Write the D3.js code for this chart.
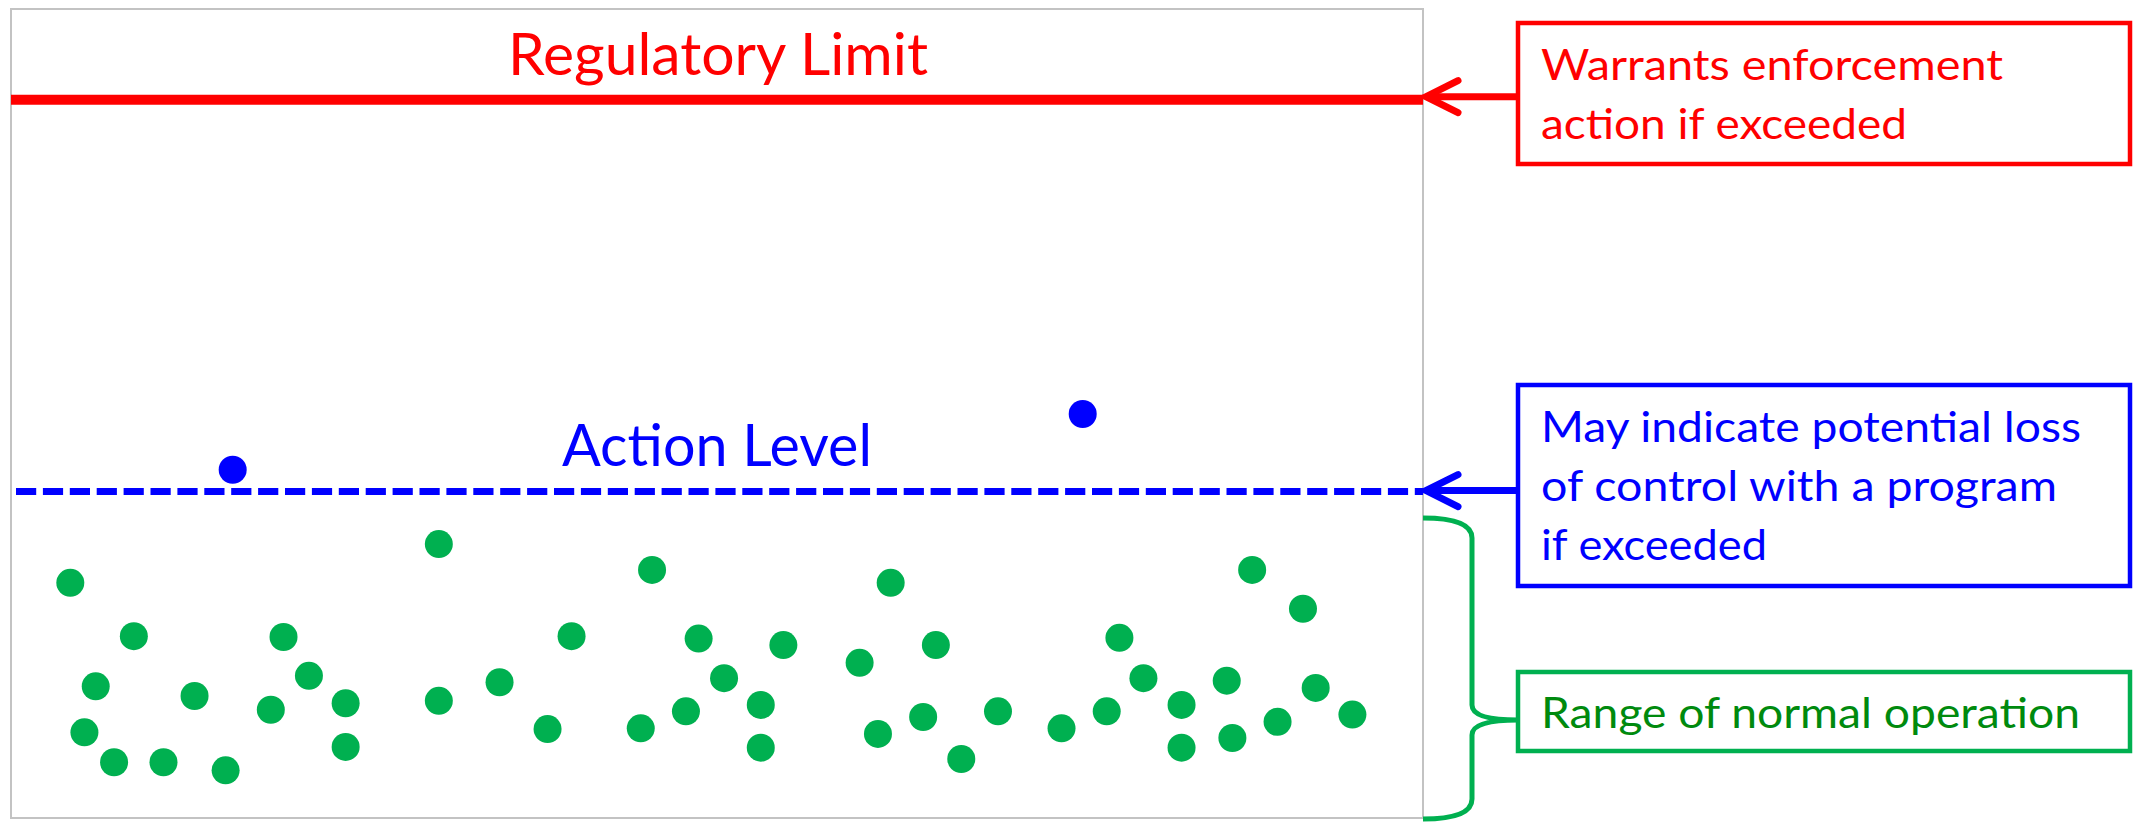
<!DOCTYPE html>
<html>
<head>
<meta charset="utf-8">
<script src="https://cdn.jsdelivr.net/npm/d3@7"></script>
<style>
  html, body { margin: 0; padding: 0; background: #fff; }
  svg { display: block; font-family: Lato, "Open Sans", sans-serif; }
</style>
</head>
<body>
<svg id="chart" width="2133" height="822"></svg>
<script>
// 측정값 (x: 샘플 위치, y: 농도) - 그림에서 읽은 값
const normalX = [4.2, 30.3, 8.7, 19.3, 6.0, 13.0, 21.1, 18.4, 23.7, 30.3, 34.6, 5.2, 7.3, 10.8, 15.2, 23.7,
                 39.7, 38.0, 45.4, 44.6, 48.7, 50.5, 47.8, 54.7, 53.1, 53.1, 62.3, 60.1, 65.5, 61.4, 64.6, 67.3, 69.9,
                 74.4, 77.6, 78.5, 80.2, 82.9, 82.9, 86.1, 86.5, 87.9, 91.5, 89.7, 92.4, 95.0];
const normalY = [29.1, 33.9, 22.5, 22.4, 16.3, 15.1, 17.6, 13.4, 14.2, 14.5, 16.8, 10.6, 6.9, 6.9, 5.9, 8.8,
                 22.5, 11.0, 30.7, 11.1, 22.2, 17.3, 13.2, 21.4, 14.0, 8.7, 29.1, 19.2, 21.4, 10.4, 12.5, 7.3, 13.2,
                 11.1, 13.2, 22.3, 17.3, 14.0, 8.7, 17.0, 9.9, 30.7, 25.9, 11.9, 16.1, 12.8];
const highX = [15.7, 75.9];
const highY = [43.1, 50.0];

const regulatoryLimit = 88.9;
const actionLevel = 40.4;

const limitLabel = "Regulatory Limit";
const actionLabel = "Action Level";
const redNote = ["Warrants enforcement", "action if exceeded"];
const blueNote = ["May indicate potential loss", "of control with a program", "if exceeded"];
const greenNote = ["Range of normal operation"];

const svg = d3.select("#chart");
const plot = { left: 11, top: 10, right: 1423, bottom: 818 };

const xScale = d3.scaleLinear().domain([0, 100]).range([plot.left, plot.right]);
const yScale = d3.scaleLinear().domain([0, 100]).range([plot.bottom, plot.top]);

const RED = "#FF0000", BLUE = "#0000FF", GREEN = "#00B050", GREEN_TEXT = "#008A0E";

// 플롯 테두리
svg.append("rect")
    .attr("x", plot.left)
    .attr("y", plot.top - 1)
    .attr("width", plot.right - plot.left)
    .attr("height", plot.bottom - plot.top + 1)
    .attr("fill", "none")
    .attr("stroke", "#C3C3C3")
    .attr("stroke-width", 2);

// 규제 한계선
svg.append("line")
    .attr("x1", xScale(0)).attr("x2", xScale(100))
    .attr("y1", yScale(regulatoryLimit)).attr("y2", yScale(regulatoryLimit))
    .attr("stroke", RED)
    .attr("stroke-width", 10);

svg.append("text")
    .attr("x", 508)
    .attr("y", yScale(regulatoryLimit) - 25)
    .attr("fill", RED)
    .attr("textLength", 420)
    .attr("lengthAdjust", "spacingAndGlyphs")
    .style("font-size", "58px")
    .text(limitLabel);

// 조치 수준선 (점선)
svg.append("line")
    .attr("x1", xScale(0) + 5).attr("x2", xScale(100))
    .attr("y1", yScale(actionLevel)).attr("y2", yScale(actionLevel))
    .attr("stroke", BLUE)
    .attr("stroke-width", 7)
    .attr("stroke-dasharray", "20.2,6.7");

svg.append("text")
    .attr("x", 562)
    .attr("y", yScale(actionLevel) - 26)
    .attr("fill", BLUE)
    .attr("textLength", 310)
    .attr("lengthAdjust", "spacingAndGlyphs")
    .style("font-size", "58px")
    .text(actionLabel);

// 데이터 점
const normalData = normalX.map((x, i) => ({ x, y: normalY[i] }));
const highData = highX.map((x, i) => ({ x, y: highY[i] }));

svg.selectAll(".normal-point")
    .data(normalData)
    .enter()
    .append("circle")
    .attr("class", "normal-point")
    .attr("cx", d => xScale(d.x))
    .attr("cy", d => yScale(d.y))
    .attr("r", 14)
    .attr("fill", GREEN);

svg.selectAll(".high-point")
    .data(highData)
    .enter()
    .append("circle")
    .attr("class", "high-point")
    .attr("cx", d => xScale(d.x))
    .attr("cy", d => yScale(d.y))
    .attr("r", 14)
    .attr("fill", BLUE);

// 주석 상자
const boxX = 1518, boxW = 612;
const notes = [
    { lines: redNote, color: RED, textColor: RED, top: 23, bottom: 164, baseline: 80 },
    { lines: blueNote, color: BLUE, textColor: BLUE, top: 385, bottom: 586, baseline: 442 },
    { lines: greenNote, color: GREEN, textColor: GREEN_TEXT, top: 672, bottom: 751, baseline: 728 }
];
const lineWidths = [[462, 366], [540, 516, 226], [539]];

notes.forEach((n, ni) => {
    svg.append("rect")
        .attr("x", boxX)
        .attr("y", n.top)
        .attr("width", boxW)
        .attr("height", n.bottom - n.top)
        .attr("fill", "#fff")
        .attr("stroke", n.color)
        .attr("stroke-width", 4.5);

    n.lines.forEach((t, i) => {
        svg.append("text")
            .attr("x", 1541)
            .attr("y", n.baseline + i * 59)
            .attr("fill", n.textColor)
            .attr("textLength", lineWidths[ni][i])
            .attr("lengthAdjust", "spacingAndGlyphs")
            .style("font-size", "42px")
            .text(t);
    });
});

// 화살표
function arrow(y, color) {
    const tip = plot.right + 3;
    svg.append("line")
        .attr("x1", boxX).attr("x2", tip + 3)
        .attr("y1", y).attr("y2", y)
        .attr("stroke", color)
        .attr("stroke-width", 7);
    svg.append("path")
        .attr("d", `M${tip + 32},${y - 16} L${tip},${y} L${tip + 32},${y + 16}`)
        .attr("fill", "none")
        .attr("stroke", color)
        .attr("stroke-width", 7)
        .attr("stroke-linecap", "round")
        .attr("stroke-linejoin", "miter");
}
arrow(yScale(regulatoryLimit) - 3, RED);
arrow(yScale(actionLevel) - 1, BLUE);

// 정상 범위 중괄호
const bx = plot.right, bTop = 518, bMid = 720, bBot = 819, bv = 1472;
svg.append("path")
    .attr("d", `M${bx},${bTop} Q${bv},${bTop} ${bv},${bTop + 20} L${bv},${bMid - 15}` +
               ` Q${bv},${bMid} ${boxX},${bMid} Q${bv},${bMid} ${bv},${bMid + 15}` +
               ` L${bv},${bBot - 20} Q${bv},${bBot} ${bx},${bBot}`)
    .attr("fill", "none")
    .attr("stroke", GREEN)
    .attr("stroke-width", 5);
</script>
</body>
</html>
